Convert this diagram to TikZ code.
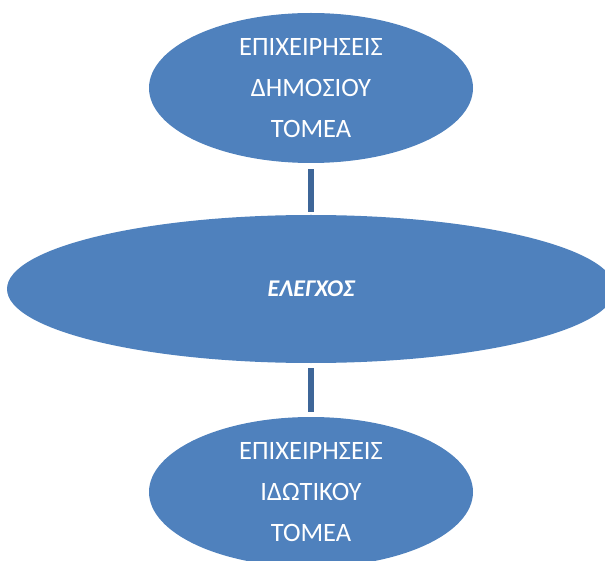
\documentclass[tikz,border=0pt]{standalone}
\usepackage{fontspec}
\setmainfont{Carlito}
\usetikzlibrary{shapes.geometric}
\definecolor{ellblue}{HTML}{4F81BD}
\definecolor{linkblue}{HTML}{3E6698}
\tikzset{
  blob/.style={ellipse, fill=ellblue, draw=none, inner sep=0pt, text=white, align=center},
  bigtxt/.style={font=\fontsize{26.5}{41}\selectfont},
  link/.style={draw=linkblue, line width=6pt}
}
\begin{document}
\begin{tikzpicture}[x=1pt,y=-1pt]
\useasboundingbox (0,0) rectangle (605,561);
\begin{scope}
\clip (0,0) rectangle (605,561);
\node[blob, minimum width=324pt, minimum height=150pt, bigtxt] (top) at (311,88) {ΕΠΙΧΕΙΡΗΣΕΙΣ\\ΔΗΜΟΣΙΟΥ\\ΤΟΜΕΑ};
\node[blob, minimum width=608pt, minimum height=148pt, font=\fontsize{24}{28}\selectfont\bfseries\itshape] (mid) at (311,289) {ΕΛΕΓΧΟΣ};
\node[blob, minimum width=324pt, minimum height=150pt, bigtxt] (bot) at (311,492) {ΕΠΙΧΕΙΡΗΣΕΙΣ\\ΙΔΩΤΙΚΟΥ\\ΤΟΜΕΑ};
\coordinate (a1) at ([yshift=-6pt]top.south);
\coordinate (a2) at ([yshift=3pt]mid.north);
\coordinate (b1) at ([yshift=-5pt]mid.south);
\coordinate (b2) at ([yshift=5pt]bot.north);
\draw[link] (a1) -- (a2);
\draw[link] (b1) -- (b2);
\end{scope}
\end{tikzpicture}
\end{document}
